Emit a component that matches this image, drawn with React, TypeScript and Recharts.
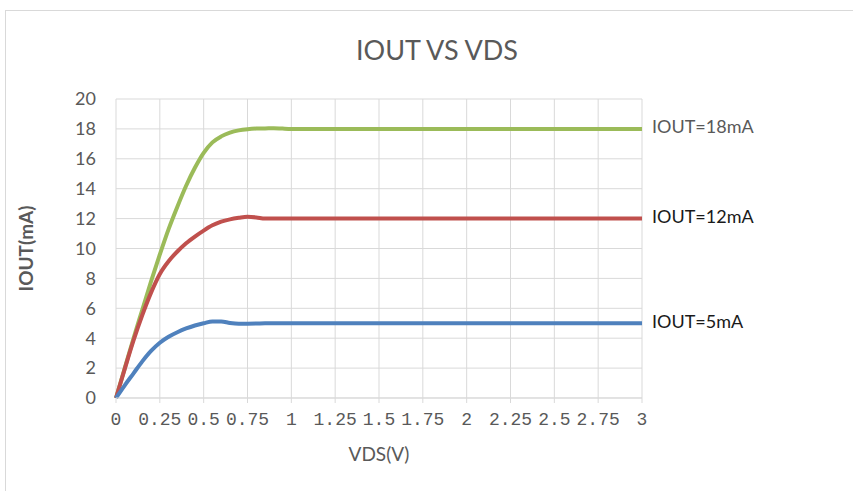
import { LineChart, Line, XAxis, YAxis, CartesianGrid, Label } from "recharts";

const vds = [
  0, 0.05, 0.1, 0.15, 0.2, 0.25, 0.3, 0.35, 0.4, 0.45, 0.5, 0.55, 0.6, 0.65,
  0.7, 0.75, 0.8, 0.85, 0.9, 0.95, 1, 1.25, 1.5, 1.75, 2, 2.25, 2.5, 2.75, 3,
];
const iout18 = [
  0, 2.0, 4.0, 5.9, 7.8, 9.6, 11.3, 12.8, 14.2, 15.4, 16.4, 17.1, 17.5, 17.75,
  17.9, 17.98, 18.02, 18.03, 18.05, 18.02, 18, 18, 18, 18, 18, 18, 18, 18, 18,
];
const iout12 = [
  0, 1.95, 3.85, 5.55, 7.05, 8.3, 9.15, 9.8, 10.35, 10.8, 11.2, 11.55, 11.8,
  11.95, 12.05, 12.12, 12.08, 12.0, 12.0, 12.0, 12, 12, 12, 12, 12, 12, 12, 12, 12,
];
const iout5 = [
  0, 0.85, 1.65, 2.45, 3.15, 3.7, 4.1, 4.4, 4.65, 4.85, 5.0, 5.12, 5.12, 5.02,
  4.97, 4.97, 4.98, 5, 5, 5, 5, 5, 5, 5, 5, 5, 5, 5, 5,
];
const xTicks = [0, 0.25, 0.5, 0.75, 1, 1.25, 1.5, 1.75, 2, 2.25, 2.5, 2.75, 3];
const yTicks = [0, 2, 4, 6, 8, 10, 12, 14, 16, 18, 20];

const series = [
  { key: "i18", name: "IOUT=18mA", color: "#9BBB59", text: "#595959" },
  { key: "i12", name: "IOUT=12mA", color: "#C0504D", text: "#1a1a1a" },
  { key: "i5", name: "IOUT=5mA", color: "#4F81BD", text: "#1a1a1a" },
];

const rows = vds.map((v, i) => ({
  vds: v,
  i18: iout18[i],
  i12: iout12[i],
  i5: iout5[i],
}));

const FONT = "Lato, 'Liberation Sans', sans-serif";

function endLabel(name: string, fill: string) {
  return (p: any) => {
    if (p.index !== rows.length - 1) return <g />;
    return (
      <text
        x={p.x + 10}
        y={p.y}
        dominantBaseline="middle"
        fontSize={18}
        fontFamily={FONT}
        fill={fill}
      >
        {name}
      </text>
    );
  };
}

export default function App() {
  return (
    <div
      style={{
        position: "fixed",
        left: 0,
        top: 0,
        width: 853,
        height: 491,
        overflow: "hidden",
        background: "#fff",
      }}
    >
      <div
        style={{
          position: "absolute",
          left: 5,
          top: 10,
          width: 900,
          height: 520,
          border: "1px solid #d9d9d9",
        }}
      />
      <div
        style={{
          position: "absolute",
          left: 0,
          top: 33,
          width: 874,
          textAlign: "center",
          fontFamily: FONT,
          fontSize: 27,
          color: "#595959",
        }}
      >
        IOUT VS VDS
      </div>
      <div style={{ position: "absolute", left: 0, top: 0 }}>
        <LineChart
          width={853}
          height={491}
          data={rows}
          margin={{ top: 99, right: 211, bottom: 63, left: 0 }}
        >
          <CartesianGrid stroke="#d9d9d9" verticalValues={xTicks} />
          <XAxis
            dataKey="vds"
            type="number"
            domain={[0, 3]}
            ticks={xTicks}
            interval={0}
            height={30}
            stroke="#d9d9d9"
            tickSize={5}
            tickMargin={9}
            tick={{ fill: "#595959", fontSize: 18, fontFamily: "'Liberation Mono', monospace" }}
          >
            <Label
              value="VDS(V)"
              position="insideBottom"
              offset={-33}
              fill="#595959"
              fontSize={19}
              fontFamily={FONT}
            />
          </XAxis>
          <YAxis
            type="number"
            domain={[0, 20]}
            ticks={yTicks}
            interval={0}
            width={116}
            axisLine={false}
            tickLine={false}
            tickMargin={14}
            tick={{ fill: "#595959", fontSize: 18, fontFamily: FONT }}
          >
            <Label
              value="IOUT(mA)"
              angle={-90}
              position="insideLeft"
              offset={26}
              fill="#595959"
              fontSize={19}
              fontWeight="bold"
              fontFamily={FONT}
              style={{ textAnchor: "middle" }}
            />
          </YAxis>
          {series.map((s) => (
            <Line
              key={s.key}
              dataKey={s.key}
              name={s.name}
              type="monotone"
              stroke={s.color}
              strokeWidth={4}
              dot={false}
              isAnimationActive={false}
              label={endLabel(s.name, s.text)}
            />
          ))}
        </LineChart>
      </div>
    </div>
  );
}
